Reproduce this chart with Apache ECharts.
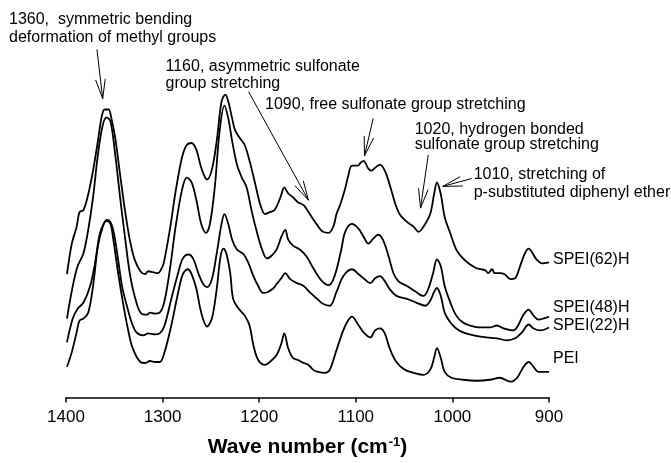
<!DOCTYPE html>
<html>
<head>
<meta charset="utf-8">
<script src="https://cdn.jsdelivr.net/npm/echarts@6/dist/echarts.min.js"></script>
<style>
  html, body { margin: 0; padding: 0; background: #fff; }
  #chart { width: 671px; height: 463px; }
</style>
</head>
<body>
<div id="chart"></div>
<script>
// FTIR spectra, 1400-900 cm-1, curves stacked with vertical offsets (a.u.)
const wn62 = [1399,1394,1389,1386,1382,1377,1372,1367,1363,1360,1356,1353,1349,1344,1339,1334,1329,1323,1318,1315,1310,1305,1300,1298,1292,1287,1280,1275,1270,1265,1260,1254,1249,1244,1239,1235,1232,1228,1225,1220,1215,1210,1204,1199,1194,1189,1184,1178,1174,1170,1165,1160,1154,1147,1140,1134,1128,1123,1120,1116,1111,1108,1104,1098,1095,1092,1087,1084,1080,1075,1070,1065,1059,1054,1047,1040,1035,1030,1023,1019,1016,1012,1008,1002,996,989,982,975,970,966,963,959,956,951,946,940,935,930,925,921,918,913,907,900];
const abs62 = [1.25,1.56,1.73,1.88,1.90,2.06,2.30,2.60,2.85,2.92,2.92,2.83,2.63,2.26,1.90,1.60,1.40,1.28,1.25,1.28,1.27,1.26,1.33,1.40,1.73,2.06,2.43,2.56,2.58,2.51,2.33,2.21,2.31,2.60,3.00,3.07,3.00,2.83,2.71,2.63,2.56,2.40,2.16,1.96,1.86,1.88,1.90,2.03,2.13,2.07,2.03,1.98,1.95,1.85,1.75,1.68,1.67,1.74,1.86,1.96,2.12,2.24,2.35,2.35,2.38,2.40,2.32,2.30,2.33,2.36,2.30,2.16,1.96,1.85,1.78,1.73,1.68,1.73,1.86,2.06,2.18,2.06,1.83,1.66,1.50,1.41,1.35,1.31,1.30,1.29,1.26,1.30,1.26,1.26,1.25,1.20,1.21,1.33,1.46,1.51,1.48,1.40,1.36,1.37];

const wn48 = [1399,1393,1388,1382,1377,1372,1367,1362,1358,1354,1349,1344,1339,1334,1329,1322,1316,1313,1308,1303,1298,1292,1287,1280,1275,1270,1265,1260,1255,1251,1246,1241,1236,1232,1228,1223,1218,1213,1208,1203,1197,1192,1187,1182,1177,1173,1170,1165,1158,1151,1144,1135,1128,1122,1115,1111,1104,1097,1092,1087,1082,1077,1072,1066,1061,1056,1047,1039,1030,1025,1020,1016,1012,1008,1002,996,989,982,971,961,954,947,937,932,927,921,916,911,906,900];
const abs48 = [0.80,1.13,1.33,1.46,1.70,2.03,2.46,2.76,2.84,2.80,2.46,2.03,1.63,1.26,1.03,0.85,0.84,0.86,0.85,0.86,0.98,1.33,1.70,2.10,2.23,2.18,2.00,1.76,1.67,1.76,2.13,2.70,2.96,2.83,2.60,2.36,2.23,2.13,1.90,1.70,1.50,1.41,1.44,1.50,1.63,1.70,1.60,1.54,1.50,1.43,1.31,1.18,1.14,1.23,1.50,1.68,1.76,1.71,1.63,1.56,1.61,1.65,1.60,1.43,1.26,1.18,1.13,1.08,1.03,1.10,1.26,1.40,1.33,1.13,0.96,0.83,0.76,0.73,0.71,0.71,0.73,0.70,0.68,0.73,0.83,0.89,0.83,0.79,0.80,0.82];

const wn22 = [1399,1393,1388,1382,1375,1370,1365,1360,1357,1352,1347,1342,1337,1332,1327,1320,1315,1308,1303,1298,1291,1284,1279,1273,1268,1263,1258,1254,1249,1244,1239,1236,1232,1228,1223,1216,1211,1206,1201,1196,1191,1185,1182,1177,1173,1168,1161,1154,1147,1140,1134,1127,1120,1113,1104,1097,1091,1085,1080,1075,1070,1065,1058,1047,1037,1028,1023,1019,1016,1012,1008,1002,996,989,978,965,954,944,935,928,921,916,909,900];
const abs22 = [0.56,0.80,0.90,0.96,1.13,1.36,1.66,1.78,1.80,1.73,1.46,1.13,0.93,0.76,0.66,0.63,0.65,0.64,0.65,0.73,1.00,1.26,1.41,1.45,1.40,1.26,1.15,1.12,1.20,1.46,1.76,1.86,1.76,1.60,1.50,1.45,1.36,1.23,1.13,1.06,1.07,1.11,1.15,1.21,1.26,1.20,1.16,1.13,1.06,1.00,0.95,0.93,1.07,1.23,1.30,1.25,1.20,1.16,1.21,1.23,1.18,1.10,1.03,1.00,0.96,0.93,0.98,1.07,1.11,1.03,0.86,0.76,0.70,0.66,0.63,0.61,0.60,0.58,0.60,0.66,0.74,0.70,0.68,0.71];

const wnPEI = [1399,1394,1389,1386,1382,1377,1372,1367,1362,1358,1354,1351,1346,1341,1336,1331,1323,1318,1313,1308,1303,1298,1291,1284,1279,1274,1270,1265,1260,1254,1249,1244,1240,1237,1234,1230,1227,1222,1215,1210,1206,1201,1194,1189,1182,1177,1174,1170,1165,1160,1154,1149,1144,1139,1132,1127,1120,1113,1108,1104,1097,1091,1085,1080,1075,1070,1065,1058,1049,1040,1030,1023,1019,1016,1012,1008,1001,989,975,961,951,940,933,927,921,916,911,904,900];
const absPEI = [0.31,0.46,0.66,0.78,0.80,0.86,1.13,1.53,1.73,1.79,1.76,1.60,1.26,0.96,0.70,0.50,0.36,0.35,0.37,0.36,0.36,0.46,0.73,1.06,1.25,1.30,1.25,1.10,0.86,0.72,0.80,1.10,1.43,1.51,1.46,1.26,1.00,0.91,0.83,0.73,0.53,0.38,0.33,0.36,0.43,0.55,0.65,0.50,0.40,0.38,0.35,0.33,0.28,0.26,0.25,0.28,0.48,0.68,0.78,0.82,0.73,0.65,0.61,0.68,0.70,0.65,0.50,0.36,0.28,0.25,0.23,0.28,0.40,0.50,0.40,0.26,0.20,0.18,0.17,0.18,0.20,0.16,0.20,0.30,0.36,0.31,0.26,0.26,0.26];

const seriesNames = ['SPEI(62)H', 'SPEI(48)H', 'SPEI(22)H', 'PEI'];
const xTicks = [1400, 1300, 1200, 1100, 1000, 900];

// band assignments: each text line is anchored at [wavenumber, absorbance]
const noteLines = [
  ['1360,  symmetric bending',              1459, 3.83],
  ['deformation of methyl groups',          1459, 3.65],
  ['1160, asymmetric sulfonate',            1297, 3.35],
  ['group stretching',                      1297, 3.18],
  ['1090, free sulfonate group stretching', 1194, 2.97],
  ['1020, hydrogen bonded',                 1039, 2.715],
  ['sulfonate group stretching',            1039, 2.56],
  ['1010, stretching of',                   978,  2.26],
  ['p-substituted diphenyl ether',          978,  2.08]
];
const noteArrows = [
  { from: [1368, 3.53], to: [1362, 3.03] },
  { from: [1211, 3.10], to: [1149, 2.00] },
  { from: [1082, 2.83], to: [1091, 2.45] },
  { from: [1025, 2.46], to: [1033, 1.92] },
  { from: [980, 2.22],  to: [1010, 2.14] }
];

const FONT = '"Liberation Sans", Arial, Helvetica, sans-serif';
const labelShift = [-3, -9, -2, -13];

function zip(xs, ys) { return xs.map((x, i) => [x, ys[i]]); }
const curves = [zip(wn62, abs62), zip(wn48, abs48), zip(wn22, abs22), zip(wnPEI, absPEI)];

const chart = echarts.init(document.getElementById('chart'), null, { renderer: 'canvas' });

chart.setOption({
  animation: false,
  backgroundColor: '#fff',
  grid: { left: 66, right: 122, top: 0, bottom: 60, containLabel: false },
  xAxis: {
    type: 'value',
    min: 900, max: 1400, interval: 100, inverse: true,
    axisLine: { show: true, lineStyle: { color: '#000', width: 1.5 } },
    axisTick: { show: true, inside: false, length: 5, lineStyle: { color: '#000', width: 1.5 } },
    axisLabel: {
      margin: 11, fontSize: 17, color: '#000', fontFamily: FONT,
      formatter: v => xTicks.includes(v) ? String(v) : ''
    },
    splitLine: { show: false },
    name: '{t|Wave number (cm}{s|-1}{t|)}',
    nameLocation: 'middle',
    nameGap: 38,
    nameTextStyle: {
      rich: {
        t: { fontSize: 21, fontWeight: 'bold', color: '#000', fontFamily: FONT, lineHeight: 24 },
        s: { fontSize: 13, fontWeight: 'bold', color: '#000', fontFamily: FONT, verticalAlign: 'top', lineHeight: 24, padding: [0, 0, 0, 1] }
      }
    }
  },
  yAxis: { type: 'value', min: 0, max: 4.03, show: false },
  series: curves.map((d, i) => ({
    name: seriesNames[i],
    type: 'line',
    data: d,
    showSymbol: false,
    smooth: 0.35,
    lineStyle: { color: '#000', width: 1.8 },
    endLabel: {
      show: true,
      formatter: '{a}',
      color: '#000',
      fontSize: 16,
      fontFamily: FONT,
      align: 'left',
      distance: -4,
      offset: [0, labelShift[i]]
    }
  }))
});

// annotation texts and open-headed arrows, placed through the grid's coordinate system
function toPx(p) { return chart.convertToPixel({ gridIndex: 0 }, p); }
const graphics = [];
noteLines.forEach(([txt, x, y]) => {
  const p = toPx([x, y]);
  graphics.push({
    type: 'text', x: p[0], y: p[1], silent: true,
    style: {
      text: txt, font: '16px ' + FONT, fill: '#000',
      textAlign: 'left', textVerticalAlign: 'middle', align: 'left', verticalAlign: 'middle'
    }
  });
});
noteArrows.forEach(a => {
  const p0 = toPx(a.from), p1 = toPx(a.to);
  const ang = Math.atan2(p0[1] - p1[1], p0[0] - p1[0]);
  const L = 20, h = 14 * Math.PI / 180;
  const arm1 = [p1[0] + L * Math.cos(ang + h), p1[1] + L * Math.sin(ang + h)];
  const arm2 = [p1[0] + L * Math.cos(ang - h), p1[1] + L * Math.sin(ang - h)];
  graphics.push({ type: 'polyline', silent: true, shape: { points: [p0, p1] }, style: { stroke: '#000', lineWidth: 1, fill: null } });
  graphics.push({ type: 'polyline', silent: true, shape: { points: [arm1, p1, arm2] }, style: { stroke: '#000', lineWidth: 1, fill: null } });
});
chart.setOption({ graphic: graphics });
</script>
</body>
</html>
